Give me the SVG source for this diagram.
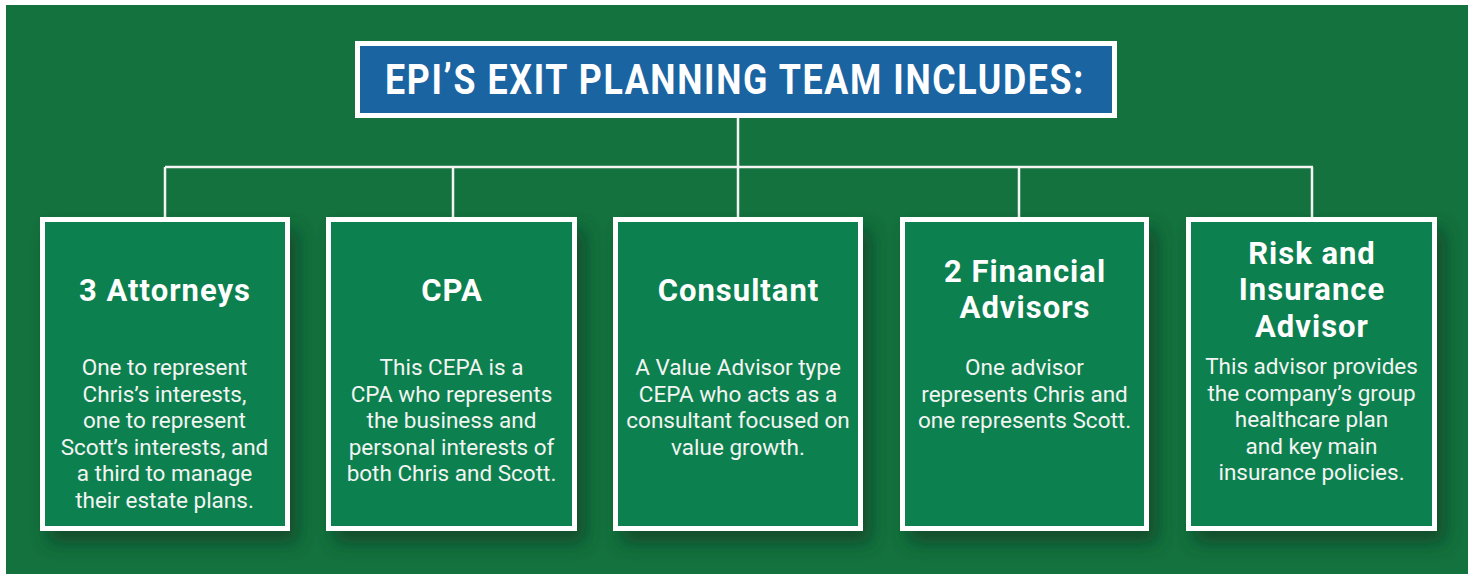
<svg xmlns="http://www.w3.org/2000/svg" width="1471" height="575" viewBox="0 0 1471 575">
<style>
.bg{fill:#13723e}
.box{fill:#11804f;stroke:#ffffff;stroke-width:5}
.tbox{fill:#1b64a2;stroke:#ffffff;stroke-width:5}
.con{fill:none;stroke:#f4f4f4;stroke-width:2.5}
.h{font-family:Roboto,"Liberation Sans",sans-serif;font-weight:700;font-size:31px;letter-spacing:1px;fill:#ffffff;text-anchor:middle}
.b{font-family:Roboto,"Liberation Sans",sans-serif;font-weight:400;font-size:22.5px;fill:#f2f5f2;text-anchor:middle}
.t{font-family:Roboto,"Liberation Sans",sans-serif;font-weight:700;font-size:43px;fill:#ffffff;text-anchor:middle;letter-spacing:2px}
</style>
<defs>
<filter id="sh" x="-20%" y="-20%" width="150%" height="150%">
<feDropShadow dx="8" dy="12" stdDeviation="9" flood-color="#0c3a22" flood-opacity="0.7"/>
</filter>
</defs>
<rect x="0" y="0" width="1471" height="575" fill="#ffffff"/>
<rect class="bg" x="6" y="5" width="1462" height="569"/>
<g id="connectors">
<path class="con" d="M738 118 V167 M165 167 H1313 M165 167 V217 M453 167 V217 M738 167 V217 M1019 167 V217 M1312 167 V217"/>
</g>
<g id="title">
<rect class="tbox" x="357.5" y="43.5" width="757" height="72"/>
<text class="t" x="735" y="94" textLength="700" lengthAdjust="spacingAndGlyphs">EPI’S EXIT PLANNING TEAM INCLUDES:</text>
</g>
<g id="attorneys">
<rect class="box" x="42.5" y="219.5" width="245" height="309" filter="url(#sh)"/>
<text class="h" x="165" y="301">3 Attorneys</text>
<text class="b" x="164.5" y="375">One to represent<tspan x="164.5" dy="26.6">Chris’s interests,</tspan><tspan x="164.5" dy="26.6">one to represent</tspan><tspan x="164.5" dy="26.6">Scott’s interests, and</tspan><tspan x="164.5" dy="26.6">a third to manage</tspan><tspan x="164.5" dy="26.6">their estate plans.</tspan></text>
</g>
<g id="cpa">
<rect class="box" x="328.5" y="219.5" width="246" height="309" filter="url(#sh)"/>
<text class="h" x="452" y="301">CPA</text>
<text class="b" x="451.5" y="375">This CEPA is a<tspan x="451.5" dy="26.6">CPA who represents</tspan><tspan x="451.5" dy="26.6">the business and</tspan><tspan x="451.5" dy="26.6">personal interests of</tspan><tspan x="451.5" dy="26.6">both Chris and Scott.</tspan></text>
</g>
<g id="consultant">
<rect class="box" x="615.5" y="219.5" width="245" height="309" filter="url(#sh)"/>
<text class="h" x="738.5" y="301">Consultant</text>
<text class="b" x="738" y="375">A Value Advisor type<tspan x="738" dy="26.6">CEPA who acts as a</tspan><tspan x="738" dy="26.6">consultant focused on</tspan><tspan x="738" dy="26.6">value growth.</tspan></text>
</g>
<g id="financial">
<rect class="box" x="902.5" y="219.5" width="244" height="309" filter="url(#sh)"/>
<text class="h" x="1025" y="281.5">2 Financial<tspan x="1025" dy="36.5">Advisors</tspan></text>
<text class="b" x="1024.5" y="375">One advisor<tspan x="1024.5" dy="26.6">represents Chris and</tspan><tspan x="1024.5" dy="26.6">one represents Scott.</tspan></text>
</g>
<g id="risk">
<rect class="box" x="1188.5" y="219.5" width="246" height="309" filter="url(#sh)"/>
<text class="h" x="1312" y="263.5">Risk and<tspan x="1312" dy="36.5">Insurance</tspan><tspan x="1312" dy="36.5">Advisor</tspan></text>
<text class="b" x="1311.5" y="374">This advisor provides<tspan x="1311.5" dy="26.6">the company’s group</tspan><tspan x="1311.5" dy="26.6">healthcare plan</tspan><tspan x="1311.5" dy="26.6">and key main</tspan><tspan x="1311.5" dy="26.6">insurance policies.</tspan></text>
</g>
</svg>
